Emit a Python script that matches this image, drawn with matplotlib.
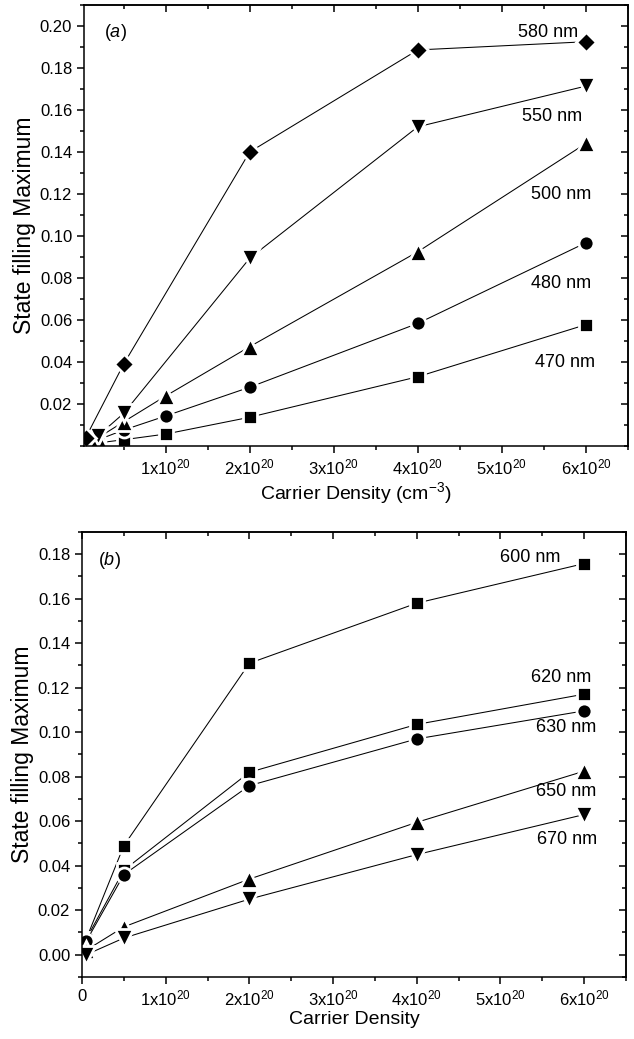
import matplotlib
matplotlib.use("Agg")
import matplotlib.pyplot as plt
import numpy as np
from matplotlib.ticker import MultipleLocator, FuncFormatter

plt.rcParams["font.family"] = ["Liberation Sans", "DejaVu Sans"]
plt.rcParams["mathtext.fontset"] = "custom"
plt.rcParams["mathtext.rm"] = "Liberation Sans"
plt.rcParams["mathtext.it"] = "Liberation Sans:italic"
plt.rcParams["axes.linewidth"] = 1.1

# carrier density in units of 1e20 cm^-3
dens_a = [0.05, 0.2, 0.5, 1, 2, 4, 6]
dens_a_550 = [0.05, 0.2, 0.5, 2, 4, 6]
dens_a_580 = [0.05, 0.5, 2, 4, 6]
sf_470 = [0.001, 0.0015, 0.003, 0.0057, 0.0137, 0.033, 0.0578]
sf_480 = [0.002, 0.003, 0.0076, 0.0143, 0.028, 0.0584, 0.0968]
sf_500 = [0.002, 0.004, 0.0115, 0.0238, 0.0473, 0.0925, 0.1441]
sf_550 = [0.003, 0.005, 0.0155, 0.0894, 0.152, 0.1714]
sf_580 = [0.004, 0.0389, 0.14, 0.1886, 0.1925]

dens_b = [0.05, 0.5, 2, 4, 6]
sf_600 = [0.007, 0.049, 0.131, 0.158, 0.1758]
sf_620 = [0.007, 0.038, 0.082, 0.1035, 0.1171]
sf_630 = [0.006, 0.036, 0.076, 0.097, 0.1096]
sf_650 = [0.002, 0.0125, 0.034, 0.0595, 0.0825]
sf_670 = [0.000, 0.0075, 0.025, 0.045, 0.063]

# (x, y) anchor of each wavelength label
labels_a = {"580 nm": (5.55, 0.197), "550 nm": (5.6, 0.157), "500 nm": (5.7, 0.12),
            "480 nm": (5.7, 0.0776), "470 nm": (5.75, 0.04)}
labels_b = {"600 nm": (5.36, 0.1786), "620 nm": (5.73, 0.1245), "630 nm": (5.79, 0.102),
            "650 nm": (5.79, 0.0735), "670 nm": (5.79, 0.052)}

marker_size = {"s": 10.5, "o": 10.8, "^": 13.0, "v": 13.0, "D": 9.8}


def series(ax, x, y, marker):
    ax.plot(x, y, color="black", lw=0.75, marker=marker, ms=marker_size[marker],
            mfc="black", mec="white", mew=2.0)


def dens_fmt(v, pos):
    if abs(v) < 1e-9:
        return "0"
    return r"$\mathregular{%dx10^{20}}$" % round(v)


def style_axes(ax, xlim, ylim, yticks):
    ax.set_xlim(*xlim)
    ax.set_ylim(*ylim)
    ax.xaxis.set_major_locator(MultipleLocator(1))
    ax.xaxis.set_minor_locator(MultipleLocator(0.5))
    ax.xaxis.set_major_formatter(FuncFormatter(dens_fmt))
    ax.set_yticks(yticks)
    ax.yaxis.set_minor_locator(MultipleLocator(0.01))
    ax.yaxis.set_major_formatter(FuncFormatter(lambda v, p: "%.2f" % v))
    ax.tick_params(which="major", direction="out", length=5, width=1.1, labelsize=12)
    ax.tick_params(which="minor", direction="out", length=3, width=1.1)
    # mirrored ticks on top and right point inwards
    top = ax.secondary_xaxis("top")
    top.xaxis.set_major_locator(MultipleLocator(1))
    top.xaxis.set_minor_locator(MultipleLocator(0.5))
    top.tick_params(which="major", direction="in", length=5, width=1.1, labeltop=False)
    top.tick_params(which="minor", direction="in", length=3, width=1.1)
    right = ax.secondary_yaxis("right")
    right.set_yticks(yticks)
    right.yaxis.set_minor_locator(MultipleLocator(0.01))
    right.tick_params(which="major", direction="in", length=5, width=1.1, labelright=False)
    right.tick_params(which="minor", direction="in", length=3, width=1.1)


fig = plt.figure(figsize=(6.34, 10.39), dpi=100)

ax1 = fig.add_axes([0.1325, 0.5707, 0.858, 0.4245])
series(ax1, dens_a, sf_470, "s")
series(ax1, dens_a, sf_480, "o")
series(ax1, dens_a, sf_500, "^")
series(ax1, dens_a_550, sf_550, "v")
series(ax1, dens_a_580, sf_580, "D")
style_axes(ax1, (0.03, 6.5), (0, 0.21), np.arange(0.02, 0.201, 0.02))
for txt, (x, y) in labels_a.items():
    ax1.text(x, y, txt, ha="center", va="center", fontsize=13)
ax1.text(0.41, 0.1967, r"($\mathit{a}$)", ha="center", va="center", fontsize=13)
ax1.set_xlabel(r"Carrier Density (cm$\mathregular{^{-3}}$)", fontsize=14, labelpad=2)
ax1.set_ylabel("State filling Maximum", fontsize=16.5, labelpad=3)

ax2 = fig.add_axes([0.1293, 0.0597, 0.8581, 0.4283])
series(ax2, dens_b, sf_600, "s")
series(ax2, dens_b, sf_620, "s")
series(ax2, dens_b, sf_630, "o")
series(ax2, dens_b, sf_650, "^")
series(ax2, dens_b, sf_670, "v")
style_axes(ax2, (0, 6.5), (-0.01, 0.19), np.arange(0.0, 0.181, 0.02))
for txt, (x, y) in labels_b.items():
    ax2.text(x, y, txt, ha="center", va="center", fontsize=13)
ax2.text(0.33, 0.1773, r"($\mathit{b}$)", ha="center", va="center", fontsize=13)
ax2.set_xlabel("Carrier Density", fontsize=14, labelpad=2)
ax2.set_ylabel("State filling Maximum", fontsize=16.5, labelpad=3)

fig.savefig("out.png", dpi=100)
